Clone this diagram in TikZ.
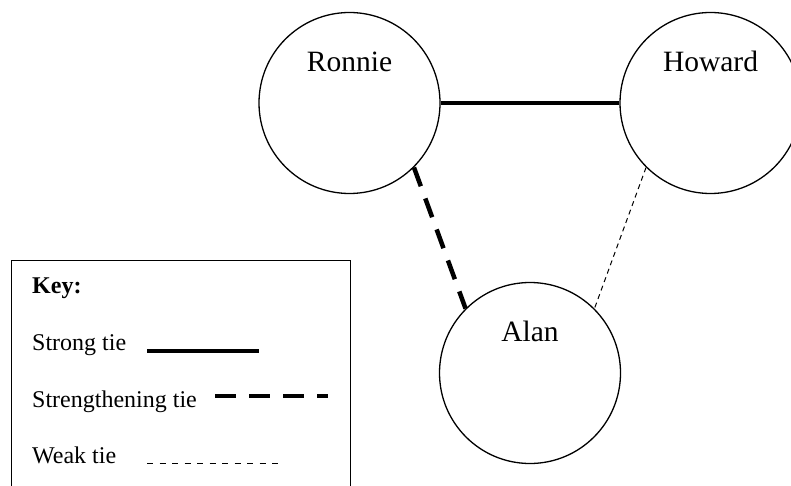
\documentclass[tikz,border=0pt]{standalone}
\usepackage{fontspec}
\setmainfont{Liberation Serif}
\usetikzlibrary{positioning}

\begin{document}
\begin{tikzpicture}[x=1pt, y=1pt,
    person/.style={draw, circle, line width=1.3pt, minimum size=181pt, inner sep=0pt},
    personname/.style={font=\fontsize{29.5}{31}\selectfont},
    keytext/.style={anchor=base west, inner sep=0pt, font=\fontsize{24}{26}\selectfont},
    strongtie/.style={line width=4.5pt},
    strengthtie/.style={line width=4.5pt, dash pattern=on 20pt off 13pt},
    weaktie/.style={line width=1pt, dash pattern=on 5pt off 4pt}]
            \useasboundingbox (0,0) rectangle (791,485);
            \clip (0,0) rectangle (791,485);
            % people
            \node[person] (ronnie) at (349.5,382) {};
            \node[person] (howard) at (710.5,382) {};
            \node[person] (alan) at (530,112) {};
            \node[personname] (ronnie-name) at ([yshift=-50pt]ronnie.north) {Ronnie};
            \node[personname] (howard-name) at ([yshift=-50pt]howard.north) {Howard};
            \node[personname] (alan-name) at ([yshift=-50pt]alan.north) {Alan};
            % ties
            \draw[strongtie] (ronnie.east) -- (howard.west);
            \draw[strengthtie] (ronnie.-45) -- (alan.135);
            \draw[weaktie] (howard.-135) -- (alan.45);
            % key
            \node[draw, rectangle, line width=1.3pt, minimum width=339pt, minimum height=260pt, anchor=north west] (keybox) at (11,225) {};
            \node[keytext, font=\fontsize{24}{26}\selectfont\bfseries] (key) at (32,192) {Key:};
            \node[keytext] (strong) at (32,135) {Strong tie};
            \node[keytext] (strengthening) at (32,78) {Strengthening tie};
            \node[keytext] (weak) at (32,22) {Weak tie};
            \coordinate (strong-a) at (147,134);
            \coordinate (strong-b) at (259,134);
            \coordinate (strengthening-a) at (215,89);
            \coordinate (strengthening-b) at (328,89);
            \coordinate (weak-a) at (147,22);
            \coordinate (weak-b) at (283,22);
            \draw[strongtie] (strong-a) -- (strong-b);
            \draw[strengthtie, dash pattern=on 21pt off 13pt] (strengthening-a) -- (strengthening-b);
            \draw[weaktie, dash pattern=on 6pt off 6.5pt] (weak-a) -- (weak-b);
        \end{tikzpicture}
\end{document}
